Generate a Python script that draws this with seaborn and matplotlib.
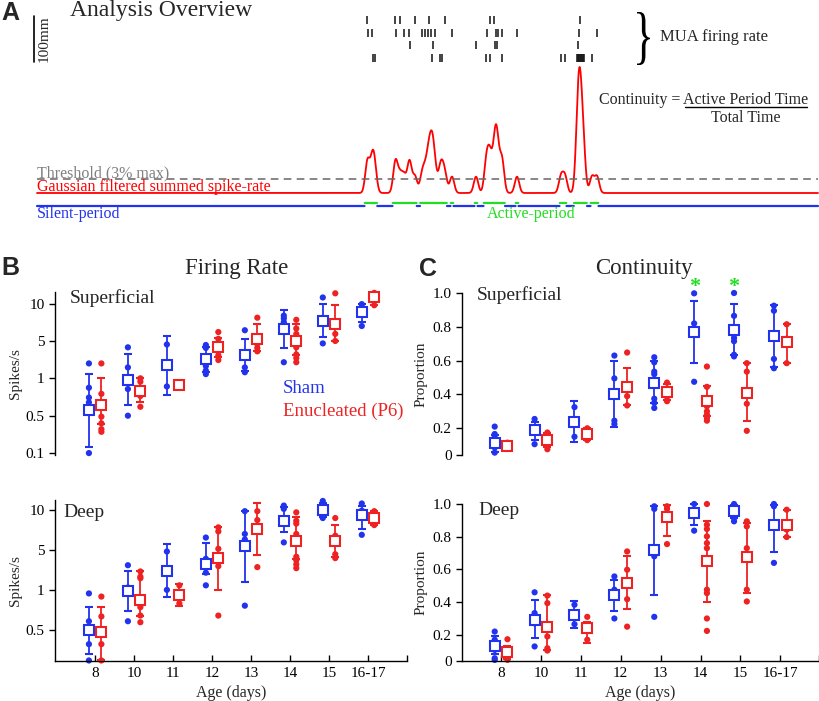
import numpy as np
import pandas as pd
import matplotlib
matplotlib.use('Agg')
import matplotlib.pyplot as plt
import seaborn as sns
from matplotlib.textpath import TextPath
from matplotlib.patches import PathPatch
from matplotlib.transforms import Affine2D
from matplotlib.font_manager import FontProperties

# ---------------- data ----------------
ages = ['8', '10', '11', '12', '13', '14', '15', '16-17']
groups = ['Sham', 'Enucleated (P6)']

# panel A: example MUA raster (spike times, a.u.), one list per channel
raster_rows = [
    [367, 395, 400, 415, 429, 445, 490, 494, 580],
    [368, 372, 396, 404, 409, 422, 425, 428, 431, 435, 452, 487, 496, 498, 502, 517, 579, 597],
    [410, 433, 476, 495, 497, 578],
    [373, 375, 432, 440, 442, 486, 490, 502, 561, 565, 577, 578, 579, 580, 581, 582, 583, 584, 592],
]
t_start, t_end = 37, 818
kernel_sd = 2.2
thresh_frac = 0.11

# panel B: firing rate (spikes/s)
fr_sup_sham_mean = [0.56, 0.97, 1.8, 2.3, 2.7, 6.3, 7.3, 8.6]
fr_sup_sham_lo = [0.13, 0.61, 0.73, 1.3, 1.4, 3.7, 5.4, 7.1]
fr_sup_sham_hi = [1.23, 2.8, 5.5, 3.9, 5.2, 8.9, 10.0, 10.0]
fr_sup_sham_pts = [[1.9, 0.84, 0.70, 0.64, 0.10], [3.8, 1.6, 1.0, 0.82, 0.5], [4.3, 0.86],
                   [4.2, 3.7, 1.7, 1.4, 1.2], [6.1, 2.9, 1.6, 1.3], [8.0, 7.6, 7.1, 6.8, 2.0],
                   [11.2, 7.6, 6.9, 4.5], [9.9, 9.4, 8.4, 6.6]]
fr_sup_enuc_mean = [0.61, 0.79, 0.89, 3.8, 5.2, 5.0, 6.9, 11.2]
fr_sup_enuc_lo = [0.35, 0.64, 0.85, 2.5, 3.3, 2.7, 5.0, 9.7]
fr_sup_enuc_hi = [1.0, 1.0, 0.93, 5.3, 6.8, 6.9, 9.7, 12.1]
fr_sup_enuc_pts = [[1.9, 0.75, 0.48, 0.36, 0.28, 0.25], [1.0, 0.94, 0.72, 0.59], [0.93, 0.85],
                   [5.9, 5.2, 4.4, 3.3, 2.7, 2.2], [7.7, 4.4, 3.7, 3.2], [7.4, 6.3, 5.7, 3.8, 2.8, 2.4, 2.0],
                   [12.1, 5.7, 5.0], [12.2, 9.7]]

fr_deep_sham_mean = [0.49, 0.98, 2.1, 2.85, 5.4, 8.3, 10.0, 9.2]
fr_deep_sham_lo = [0.19, 0.69, 0.88, 1.9, 1.4, 6.8, 8.8, 7.2]
fr_deep_sham_hi = [0.74, 2.1, 5.5, 5.6, 9.9, 10.6, 11.3, 10.8]
fr_deep_sham_pts = [[0.94, 0.58, 0.28, 0.145], [2.7, 1.1, 0.58], [4.7, 1.0], [6.2, 3.5, 2.0, 1.2],
                    [9.8, 6.6, 6.0, 0.76], [10.8, 10.2, 5.7], [11.7, 11.0, 10.4, 9.6, 9.1, 8.7],
                    [11.2, 9.9, 6.5]]
fr_deep_enuc_mean = [0.45, 0.84, 0.92, 3.6, 7.2, 5.8, 5.8, 8.7]
fr_deep_enuc_lo = [0.145, 0.64, 0.75, 1.0, 4.1, 3.5, 3.8, 7.7]
fr_deep_enuc_hi = [0.74, 2.1, 1.27, 7.4, 11.2, 8.8, 7.7, 9.8]
fr_deep_enuc_pts = [[0.89, 0.63, 0.28, 0.145], [2.1, 1.7, 1.6, 0.74, 0.64, 0.57], [1.2, 0.79],
                    [7.4, 6.9, 5.1, 2.6, 0.64], [9.8, 8.4, 2.5],
                    [9.6, 8.3, 7.9, 6.6, 5.9, 3.8, 3.3, 2.8, 2.4], [8.7, 6.4, 5.9, 4.2, 3.6], [9.8, 7.7]]

# panel C: continuity (proportion)
ct_sup_sham_mean = [0.112, 0.19, 0.235, 0.40, 0.47, 0.768, 0.784, 0.745]
ct_sup_sham_lo = [0.06, 0.13, 0.116, 0.205, 0.35, 0.585, 0.635, 0.56]
ct_sup_sham_hi = [0.16, 0.24, 0.36, 0.595, 0.60, 0.954, 0.934, 0.93]
ct_sup_sham_pts = [[0.21, 0.166, 0.146, 0.086, 0.056], [0.255, 0.185, 0.106], [0.325, 0.15],
                   [0.63, 0.495, 0.245, 0.225], [0.62, 0.59, 0.535, 0.52, 0.375, 0.35, 0.32],
                   [0.998, 0.82, 0.78, 0.475], [1.0, 0.865, 0.735, 0.715, 0.635, 0.625],
                   [0.925, 0.895, 0.61, 0.555]]
ct_sup_enuc_mean = [0.096, 0.13, 0.166, 0.445, 0.415, 0.36, 0.41, 0.71]
ct_sup_enuc_lo = [0.08, 0.09, 0.13, 0.34, 0.37, 0.27, 0.245, 0.585]
ct_sup_enuc_hi = [0.11, 0.17, 0.2, 0.555, 0.46, 0.45, 0.585, 0.815]
ct_sup_enuc_pts = [[0.115, 0.09, 0.08], [0.175, 0.155, 0.096, 0.076], [0.2, 0.13],
                   [0.648, 0.39, 0.335], [0.47, 0.385, 0.36],
                   [0.565, 0.445, 0.33, 0.3, 0.28, 0.26, 0.245], [0.585, 0.535, 0.345, 0.185],
                   [0.815, 0.73, 0.585]]

ct_deep_sham_mean = [0.129, 0.29, 0.32, 0.445, 0.72, 0.945, 0.955, 0.873]
ct_deep_sham_lo = [0.08, 0.18, 0.24, 0.343, 0.445, 0.873, 0.914, 0.704]
ct_deep_sham_hi = [0.19, 0.414, 0.404, 0.537, 0.986, 1.0, 0.996, 0.996]
ct_deep_sham_pts = [[0.22, 0.17, 0.108, 0.057, 0.047], [0.46, 0.333, 0.27, 0.129], [0.384, 0.265],
                    [0.557, 0.476, 0.30], [0.986, 0.97, 0.68, 0.31], [1.0, 0.837],
                    [1.0, 0.986, 0.914, 0.894], [1.0, 0.986, 0.64]]
ct_deep_enuc_mean = [0.092, 0.25, 0.24, 0.52, 0.92, 0.65, 0.673, 0.873]
ct_deep_enuc_lo = [0.05, 0.11, 0.15, 0.357, 0.806, 0.398, 0.455, 0.80]
ct_deep_enuc_hi = [0.13, 0.445, 0.28, 0.68, 0.996, 0.898, 0.884, 0.965]
ct_deep_enuc_pts = [[0.173, 0.08, 0.047], [0.44, 0.394, 0.19, 0.118, 0.104], [0.31, 0.17],
                    [0.71, 0.598, 0.418, 0.25], [0.986, 0.97, 0.755],
                    [1.0, 0.873, 0.847, 0.802, 0.761, 0.73, 0.476, 0.455, 0.30, 0.224],
                    [0.894, 0.863, 0.73, 0.476, 0.404], [0.965, 0.843, 0.798]]

sig_ages = ['14', '15']  # continuity superficial, sham vs enucleated

fr_ticks = [0.1, 0.5, 1, 5, 10]
ct_ticks = [0.2, 0.4, 0.6, 0.8, 1.0]

# ---------------- style ----------------
BLUE = '#2233ee'
RED = '#ee2222'
GREEN = '#22dd22'
OFF = 0.16  # horizontal offset of the two groups around each age

sns.set_theme(style='ticks', rc={'axes.edgecolor': 'black', 'xtick.color': 'black',
                                 'ytick.color': 'black', 'axes.linewidth': 1.0,
                                 'xtick.major.width': 1.0, 'ytick.major.width': 1.0,
                                 'xtick.major.size': 4, 'ytick.major.size': 4})
plt.rcParams['font.family'] = ['Liberation Serif', 'DejaVu Serif']

W, H = 820, 701
fig = plt.figure(figsize=(W / 100, H / 100), dpi=100)


def ftxt(x, y, s, **kw):
    fig.text(x / W, 1 - y / H, s, **kw)


# ---------------- panel A ----------------
axA = fig.add_axes([0, 1 - 225 / H, 1, 225 / H])
axA.set_xlim(0, W)
axA.set_ylim(225, 0)
axA.axis('off')

row_y = [20, 33, 44.5, 58]
for ry, times in zip(row_y, raster_rows):
    axA.vlines(times, ry - 4, ry + 4, color='#111111', lw=1.1)

t = np.arange(t_start, t_end + 0.25, 0.25)
spikes = np.concatenate([np.array(r, float) for r in raster_rows])
rate = np.exp(-0.5 * ((t[:, None] - spikes[None, :]) / kernel_sd) ** 2).sum(axis=1)
rate_n = rate / rate.max()
active = rate_n > thresh_frac

base_y, peak_h = 193, 126
sns.lineplot(x=t, y=base_y - peak_h * rate_n, ax=axA, color='red', lw=1.3)
axA.plot([t_start, t_end], [base_y - peak_h * thresh_frac] * 2, color='#666666', lw=1.1,
         dashes=(5, 3.5))
axA.plot(t, np.where(active, np.nan, 206), color=BLUE, lw=1.6)
axA.plot(t, np.where(active, 203, np.nan), color=GREEN, lw=1.6)

axA.text(37, 177, 'Threshold (3% max)', color='#808080', fontsize=11.5, va='baseline')
axA.text(37, 191, 'Gaussian filtered summed spike-rate', color='red', fontsize=11.5, va='baseline')
axA.text(37, 218, 'Silent-period', color=BLUE, fontsize=11.5, va='baseline')
axA.text(487, 218, 'Active-period', color=GREEN, fontsize=11.5, va='baseline')

# scale bar
axA.plot([34, 34], [16, 62], color='black', lw=1.2)
axA.text(44, 39, '100mm', rotation=90, ha='center', va='center', fontsize=11)

# brace + label
bp = TextPath((0, 0), '}', size=1, prop=FontProperties(family='Liberation Serif'))
ext = bp.get_extents()
tr = Affine2D().translate(-ext.x0, -ext.y0).scale(13 / ext.width, -53 / ext.height).translate(637, 65)
axA.add_patch(PathPatch(tr.transform_path(bp), fc='black', ec='none'))
axA.text(660, 37, 'MUA firing rate', fontsize=12, va='center')

# continuity equation
axA.text(684, 100, 'Continuity = ', fontsize=11.5, ha='right', va='center')
axA.text(746, 100, 'Active Period Time', fontsize=11.5, ha='center', va='center')
axA.plot([685, 807], [107, 107], color='black', lw=1.0)
axA.text(746, 118, 'Total Time', fontsize=11.5, ha='center', va='center')

ftxt(10, 13, 'A', fontsize=18, fontweight='bold', family='Liberation Sans', ha='center', va='center')
ftxt(70, 16, 'Analysis Overview', fontsize=17, va='baseline')

# ---------------- panels B, C ----------------
log_t = np.log10(fr_ticks)


def fr_fwd(v):
    lv = np.log10(np.clip(np.asarray(v, float), 1e-6, None))
    p = np.interp(lv, log_t, np.arange(len(log_t)))
    p = np.where(lv > log_t[-1], len(log_t) - 1 + (lv - log_t[-1]) / (log_t[-1] - log_t[-2]), p)
    p = np.where(lv < log_t[0], (lv - log_t[0]) / (log_t[1] - log_t[0]), p)
    return p


def fr_inv(p):
    p = np.asarray(p, float)
    n = len(log_t) - 1
    lv = np.interp(p, np.arange(len(log_t)), log_t)
    lv = np.where(p > n, log_t[-1] + (p - n) * (log_t[-1] - log_t[-2]), lv)
    lv = np.where(p < 0, log_t[0] + p * (log_t[1] - log_t[0]), lv)
    return 10 ** lv


def long_df(sham_pts, enuc_pts):
    rows = []
    for g, o, pts in zip(groups, [-OFF, OFF], [sham_pts, enuc_pts]):
        for i, vals in enumerate(pts):
            for v in vals:
                rows.append({'pos': i + o, 'group': g, 'value': v})
    return pd.DataFrame(rows)


def draw_panel(ax, sham, enuc, bottom, xlim):
    df = long_df(sham[3], enuc[3])
    sns.scatterplot(data=df, x='pos', y='value', hue='group', hue_order=groups,
                    palette=[BLUE, RED], s=20, linewidth=0, legend=False, ax=ax,
                    zorder=2, clip_on=False)
    xs = np.arange(len(ages))
    for (mean, lo, hi, _), o, col in zip([sham, enuc], [-OFF, OFF], [BLUE, RED]):
        mean, lo, hi = np.array(mean), np.array(lo), np.array(hi)
        ax.errorbar(xs + o, mean, yerr=[mean - lo, hi - mean], fmt='s', ms=7, mfc='white',
                    mec=col, mew=1.5, ecolor=col, elinewidth=1.3, capsize=2.6, capthick=1.3,
                    zorder=3, clip_on=False)
    ax.set_facecolor('none')
    ax.spines[['top', 'right']].set_visible(False)
    ax.set_xlim(*xlim)
    ax.set_xlabel('')
    ax.set_ylabel('')
    if bottom:
        ax.set_xticks(list(xs) + [xlim[1]])
        ax.set_xticklabels(ages + [''], fontsize=11)
        ax.tick_params(axis='x', direction='in', pad=4)
        ax.set_xlabel('Age (days)', fontsize=11.5, labelpad=4)
    else:
        ax.spines['bottom'].set_visible(False)
        ax.tick_params(axis='x', bottom=False, labelbottom=False)


panels = [
    ([55, 292, 407, 455], 'fr', False,
     (fr_sup_sham_mean, fr_sup_sham_lo, fr_sup_sham_hi, fr_sup_sham_pts),
     (fr_sup_enuc_mean, fr_sup_enuc_lo, fr_sup_enuc_hi, fr_sup_enuc_pts), (0.092, 12.4)),
    ([55, 500, 407, 661], 'fr', True,
     (fr_deep_sham_mean, fr_deep_sham_lo, fr_deep_sham_hi, fr_deep_sham_pts),
     (fr_deep_enuc_mean, fr_deep_enuc_lo, fr_deep_enuc_hi, fr_deep_enuc_pts), (0.142, 11.9)),
    ([462, 293, 819, 455], 'ct', False,
     (ct_sup_sham_mean, ct_sup_sham_lo, ct_sup_sham_hi, ct_sup_sham_pts),
     (ct_sup_enuc_mean, ct_sup_enuc_lo, ct_sup_enuc_hi, ct_sup_enuc_pts), (0.042, 1.0)),
    ([462, 504, 819, 661], 'ct', True,
     (ct_deep_sham_mean, ct_deep_sham_lo, ct_deep_sham_hi, ct_deep_sham_pts),
     (ct_deep_enuc_mean, ct_deep_enuc_lo, ct_deep_enuc_hi, ct_deep_enuc_pts), (0.04, 1.0)),
]

axes = []
for (x0, y0, x1, y1), kind, bottom, sham, enuc, ylim in panels:
    ax = fig.add_axes([x0 / W, 1 - y1 / H, (x1 - x0) / W, (y1 - y0) / H])
    xlim = (-1.03, 8.0) if kind == 'fr' else (-0.98, 7.97)
    draw_panel(ax, sham, enuc, bottom, xlim)
    if kind == 'fr':
        ax.set_yscale('function', functions=(fr_fwd, fr_inv))
        ax.set_ylim(*ylim)
        shown = [v for v in fr_ticks if v >= ylim[0]]
        ax.set_yticks(shown)
        ax.set_yticklabels([f'{v:g}' for v in shown], fontsize=11)
        ax.set_ylabel('Spikes/s', fontsize=11)
    else:
        ax.set_ylim(*ylim)
        ax.set_yticks([ylim[0]] + ct_ticks)
        ax.set_yticklabels(['0'] + [f'{v:.1f}' for v in ct_ticks], fontsize=11)
        ax.set_ylabel('Proportion', fontsize=11)
    ax.yaxis.set_label_coords((22 - x0 if kind == 'fr' else 428 - x0) / (x1 - x0), 0.5)
    ax.yaxis.set_minor_locator(matplotlib.ticker.NullLocator())
    axes.append(ax)

# significance stars
for a in sig_ages:
    axes[2].text(ages.index(a) - OFF, 1.035, '*', color=GREEN, fontsize=16, ha='center',
                 va='center', fontweight='bold', clip_on=False)

ftxt(70, 303, 'Superficial', fontsize=14, va='baseline')
ftxt(63, 517, 'Deep', fontsize=14, va='baseline')
ftxt(477, 300, 'Superficial', fontsize=14, va='baseline')
ftxt(478, 515, 'Deep', fontsize=14, va='baseline')

ftxt(10, 268, 'B', fontsize=18, fontweight='bold', family='Liberation Sans', ha='center', va='center')
ftxt(428, 269, 'C', fontsize=18, fontweight='bold', family='Liberation Sans', ha='center', va='center')
ftxt(237, 274, 'Firing Rate', fontsize=16.5, ha='center', va='baseline')
ftxt(644, 274, 'Continuity', fontsize=16.5, ha='center', va='baseline')
ftxt(283, 393, 'Sham', fontsize=13.5, color=BLUE, va='baseline')
ftxt(283, 416, 'Enucleated (P6)', fontsize=13.5, color=RED, va='baseline')

fig.savefig('out.png', dpi=100)
